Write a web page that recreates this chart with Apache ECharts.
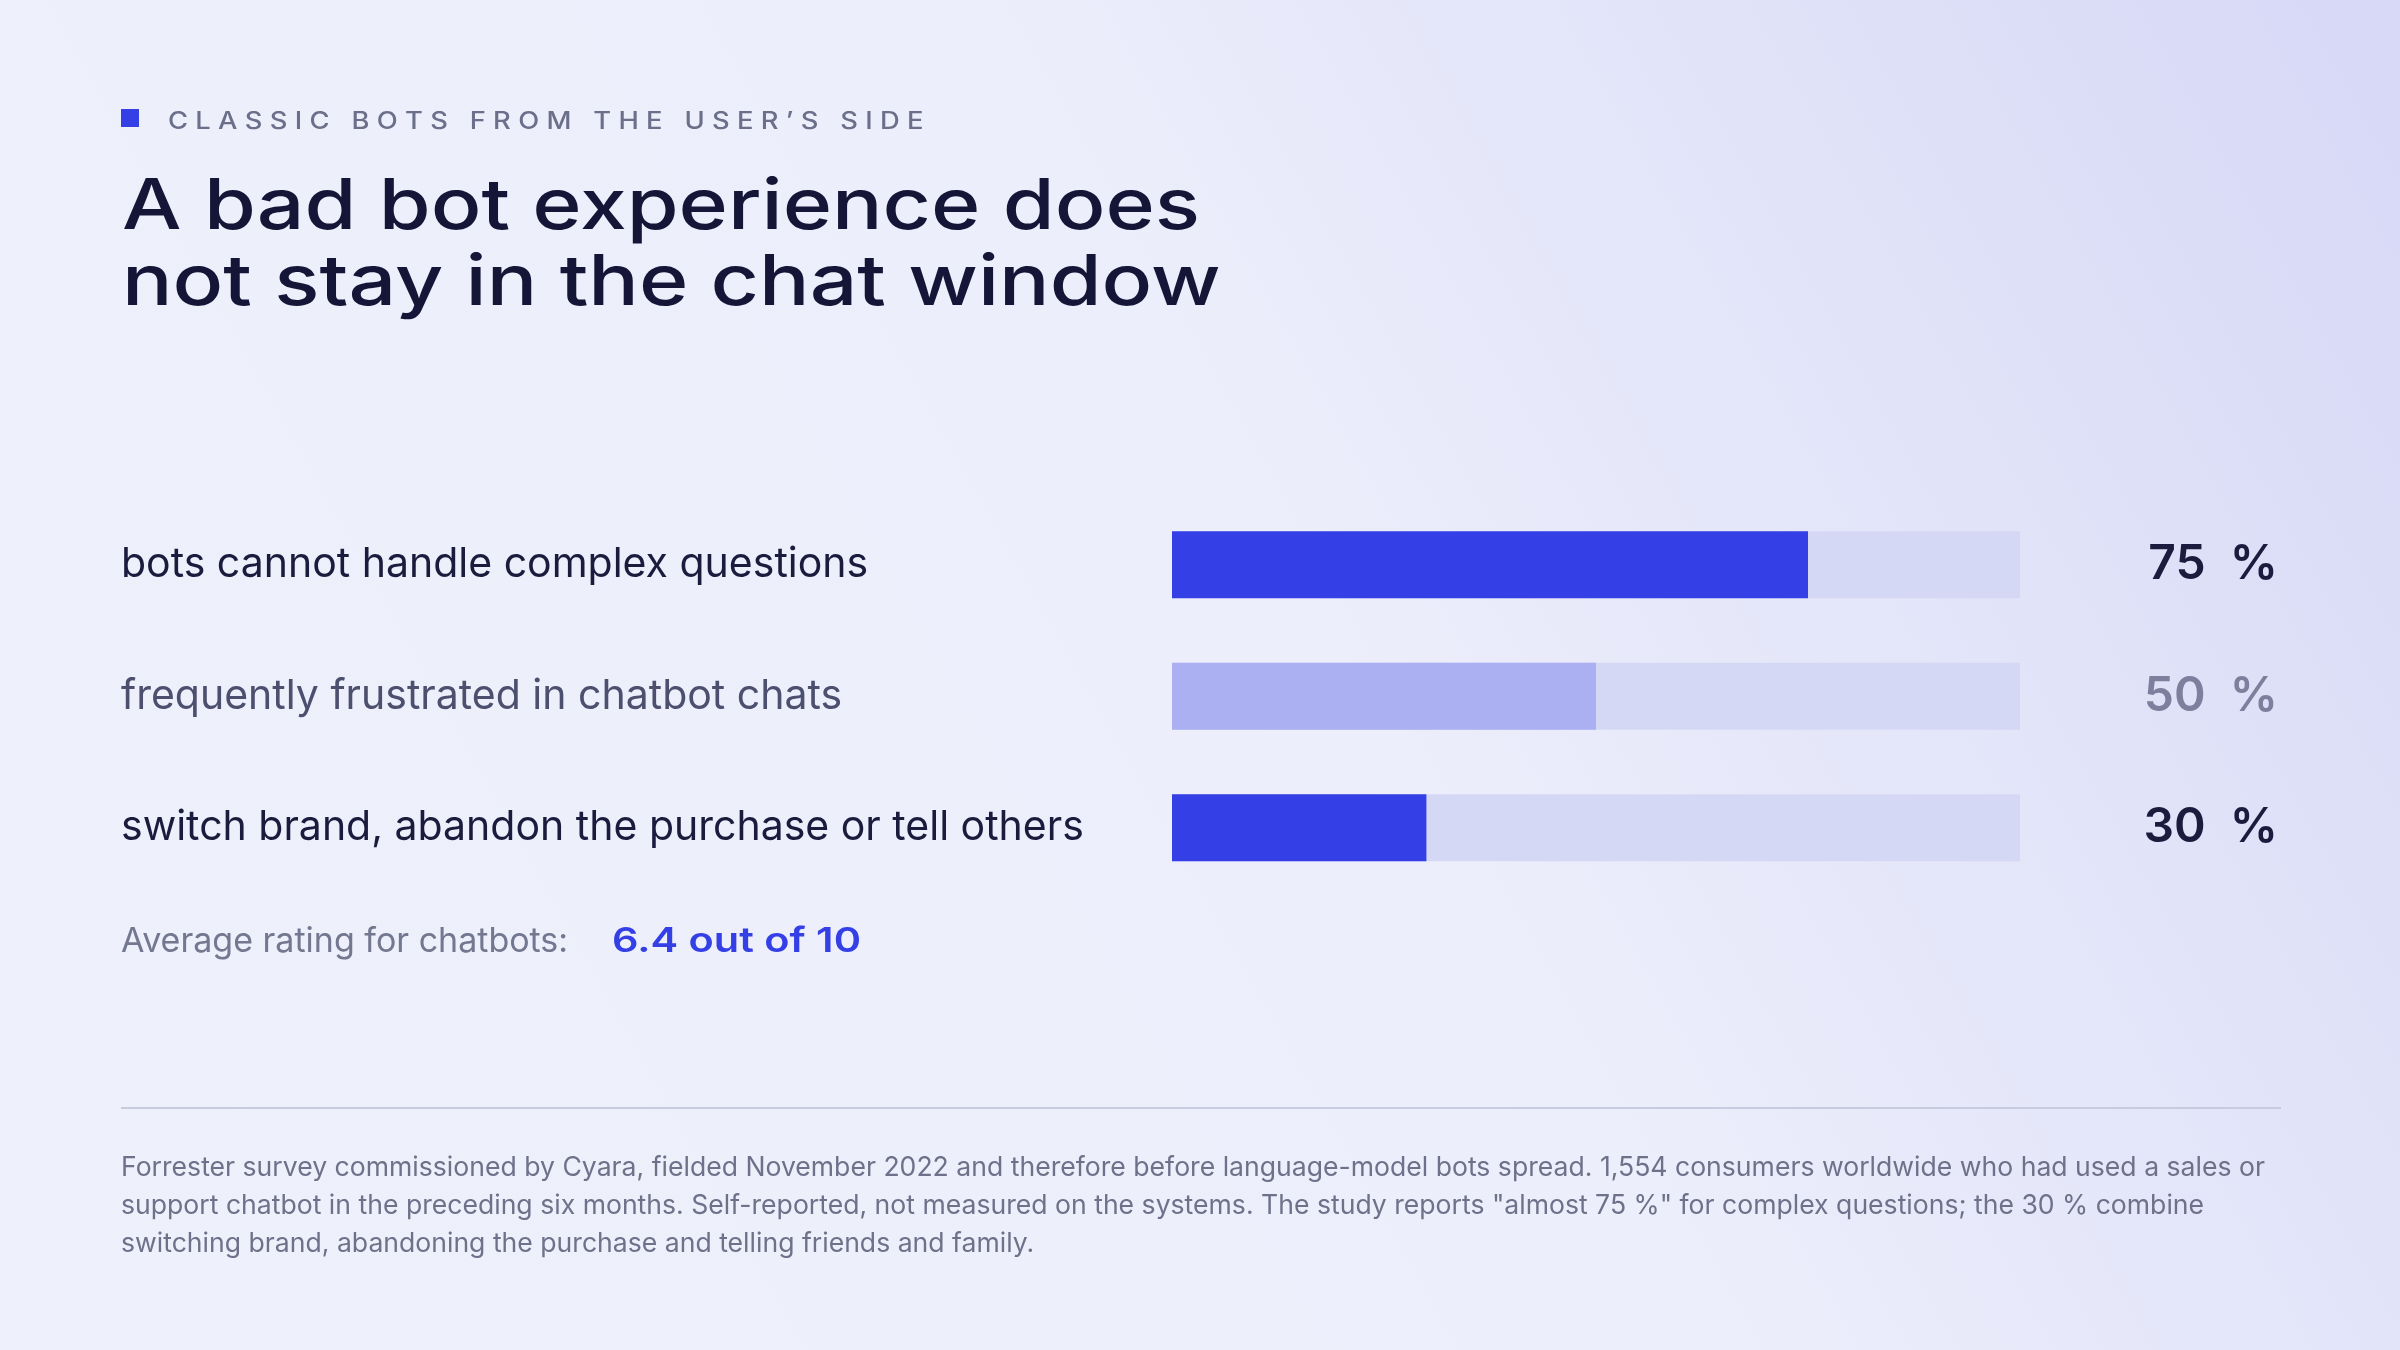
<!DOCTYPE html>
<html>
<head>
<meta charset="utf-8">
<script src="https://cdn.jsdelivr.net/npm/echarts@6/dist/echarts.min.js"></script>
<style>
  html, body { margin: 0; padding: 0; }
  #chart { width: 2400px; height: 1350px; }
</style>
</head>
<body>
<div id="chart"></div>
<script>
// data
var categories = [
  'bots cannot handle complex questions',
  'frequently frustrated in chatbot chats',
  'switch brand, abandon the purchase or tell others'
];
var values = [75, 50, 30];
var barColors = ['#3440e6', '#aab0f2', '#3440e6'];
var labelStyles = ['dark', 'muted', 'dark'];

var footnote = [
  'Forrester survey commissioned by Cyara, fielded November 2022 and therefore before language-model bots spread. 1,554 consumers worldwide who had used a sales or',
  'support chatbot in the preceding six months. Self-reported, not measured on the systems. The study reports "almost 75 %" for complex questions; the 30 % combine',
  'switching brand, abandoning the purchase and telling friends and family.'
];

var font = 'Inter, "Noto Sans", sans-serif';

var myChart = echarts.init(document.getElementById('chart'));

myChart.setOption({
  backgroundColor: {
    type: 'linear', x: 0, y: 1, x2: 1, y2: 0,
    colorStops: [
      { offset: 0, color: '#eef0fb' },
      { offset: 0.55, color: '#eceefb' },
      { offset: 1, color: '#d6d8f6' }
    ]
  },
  animation: false,
  grid: { left: 1172, width: 848, top: 499, height: 394.5 },
  xAxis: { type: 'value', min: 0, max: 100, show: false },
  yAxis: [{
    type: 'category',
    inverse: true,
    data: categories,
    axisLine: { show: false },
    axisTick: { show: false },
    axisLabel: {
      align: 'left',
      margin: 1051,
      formatter: function (v, i) { return '{' + labelStyles[i] + '|' + v + '}'; },
      rich: {
        dark: { fontFamily: font, fontSize: 41, color: '#1b1c3d' },
        muted: { fontFamily: font, fontSize: 41, color: '#4c4f6e' }
      }
    }
  }, {
    type: 'category',
    inverse: true,
    position: 'right',
    data: values,
    axisLine: { show: false },
    axisTick: { show: false },
    axisLabel: {
      align: 'right',
      margin: 258,
      formatter: function (v, i) { return '{' + labelStyles[i] + '|' + v + '  %}'; },
      rich: {
        dark: { fontFamily: font, fontSize: 48, fontWeight: 600, color: '#1b1c3d' },
        muted: { fontFamily: font, fontSize: 48, fontWeight: 600, color: '#7c809c' }
      }
    }
  }],
  series: [{
    type: 'bar',
    barWidth: 67,
    showBackground: true,
    backgroundStyle: { color: '#d5d8f5' },
    data: values.map(function (v, i) {
      return { value: v, itemStyle: { color: barColors[i] } };
    })
  }],
  graphic: [
    { type: 'rect', shape: { x: 121, y: 109, width: 18, height: 18 }, style: { fill: '#3440e6' } },
    { type: 'text', x: 168, y: 110, scaleX: 1.14, style: {
      text: 'C L A S S I C   B O T S   F R O M   T H E   U S E R \u2019 S   S I D E',
      font: '500 24px ' + font, fill: '#6b6f8a' } },
    { type: 'text', x: 122, y: 170, scaleX: 1.2, style: {
      text: 'A bad bot experience does\nnot stay in the chat window',
      font: '500 70px ' + font, fill: '#151637', lineHeight: 76 } },
    { type: 'text', x: 121, y: 925, style: {
      text: 'Average rating for chatbots:', font: '34px ' + font, fill: '#73778f' } },
    { type: 'text', x: 612, y: 925, scaleX: 1.22, style: {
      text: '6.4 out of 10', font: '600 34px ' + font, fill: '#3440e6' } },
    { type: 'line', shape: { x1: 121, y1: 1108, x2: 2281, y2: 1108 }, style: { stroke: '#c8cade', lineWidth: 2 } },
    { type: 'text', x: 121, y: 1149, style: {
      text: footnote.join('\n'), font: '26.6px ' + font, fill: '#6e7189', lineHeight: 38 } }
  ]
});
</script>
</body>
</html>
